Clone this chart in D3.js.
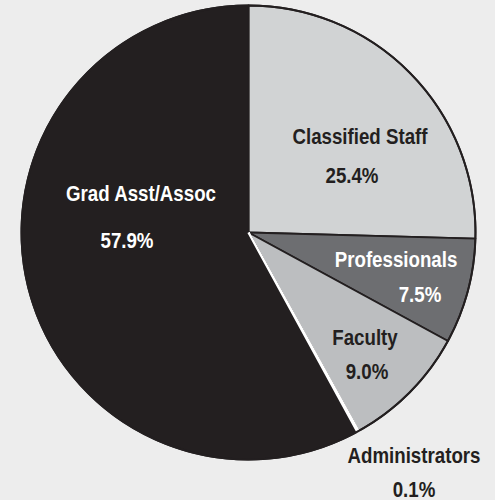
<!DOCTYPE html>
<html>
<head>
<meta charset="utf-8">
<script src="https://cdn.jsdelivr.net/npm/d3@7"></script>
<style>
  body { margin: 0; background: #ededed; }
  svg { display: block; }
  .lbl { font-family: "Liberation Sans", Arial, sans-serif; font-weight: bold; font-size: 22px; text-anchor: middle; }
</style>
</head>
<body>
<div id="chart"></div>
<script>
// Data, clockwise from 12 o'clock
var categories = ["Classified Staff", "Professionals", "Faculty", "Administrators", "Grad Asst/Assoc"];
var percents = [25.4, 7.5, 9.0, 0.1, 57.9];
var valueLabels = ["25.4%", "7.5%", "9.0%", "0.1%", "57.9%"];

// Styling per slice
var sliceColors = ["#d1d3d4", "#6d6e71", "#bcbec0", "#ffffff", "#231f20"];
var textColors = ["#231f20", "#ffffff", "#231f20", "#231f20", "#ffffff"];

// Label placement relative to the pie centre (name line, value line)
var labelOffsets = [
    { x: 111.5, y: -88.5, vx: 103.5, vy: -49.5 },
    { x: 147.5, y: 34.5, vx: 171.5, vy: 69.5 },
    { x: 116.5, y: 112.5, vx: 118.5, vy: 146.5 },
    { x: 165.5, y: 230.5, vx: 165.5, vy: 264.5 },
    { x: -107.5, y: -32, vx: -121.5, vy: 15.5 }
];

var svgWidth = 495;
var svgHeight = 500;
var cx = 248.5;
var cy = 232.5;
var radius = 227;
// squeeze the font horizontally to mimic a condensed face
var condense = 0.85;

var svg = d3.select("#chart")
    .append("svg")
    .attr("width", svgWidth)
    .attr("height", svgHeight);

svg.append("rect")
    .attr("width", svgWidth)
    .attr("height", svgHeight)
    .attr("fill", "#ededed");

var g = svg.append("g")
    .attr("transform", `translate(${cx}, ${cy})`);

var pie = d3.pie()
    .sort(null)
    .value(d => d);

var arc = d3.arc()
    .innerRadius(0)
    .outerRadius(radius);

var arcs = pie(percents);

g.selectAll("path.slice")
    .data(arcs)
    .enter()
    .append("path")
    .attr("class", "slice")
    .attr("d", arc)
    .attr("fill", (d, i) => sliceColors[i])
    .attr("stroke", "#231f20")
    .attr("stroke-width", 1.8)
    .attr("stroke-linejoin", "round");

// the tiny Administrators wedge gets a white edge so it stays visible
g.append("path")
    .attr("d", arc(arcs[3]))
    .attr("fill", "#ffffff")
    .attr("stroke", "#ffffff")
    .attr("stroke-width", 2.4);

// outer ring
g.append("circle")
    .attr("r", radius)
    .attr("fill", "none")
    .attr("stroke", "#231f20")
    .attr("stroke-width", 2);

// labels
var labels = g.selectAll("g.label")
    .data(categories)
    .enter()
    .append("g")
    .attr("class", "label");

labels.append("g")
    .attr("transform", (d, i) => `translate(${labelOffsets[i].x}, ${labelOffsets[i].y}) scale(${condense}, 1)`)
    .append("text")
    .attr("class", "lbl")
    .attr("fill", (d, i) => textColors[i])
    .text(d => d);

labels.append("g")
    .attr("transform", (d, i) => `translate(${labelOffsets[i].vx}, ${labelOffsets[i].vy}) scale(${condense}, 1)`)
    .append("text")
    .attr("class", "lbl")
    .attr("fill", (d, i) => textColors[i])
    .text((d, i) => valueLabels[i]);
</script>
</body>
</html>
